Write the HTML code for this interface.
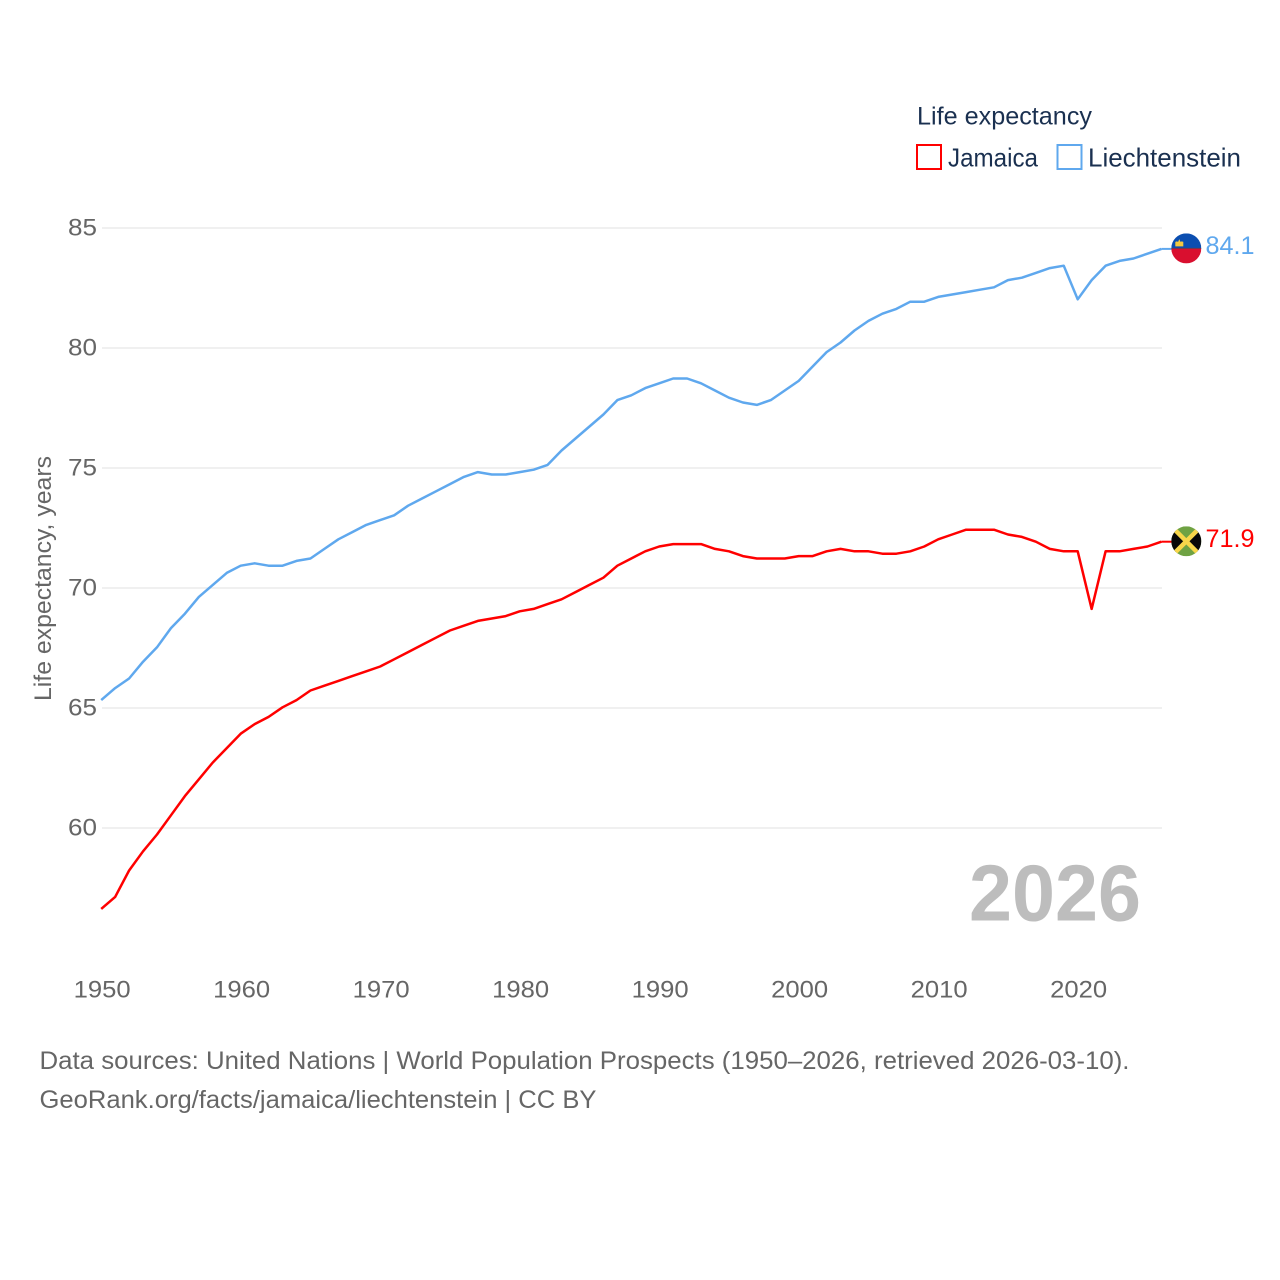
<!DOCTYPE html>
<html lang="en">
<head>
<meta charset="utf-8">
<title>Life expectancy: Jamaica and Liechtenstein</title>
<style>
html,body{margin:0;padding:0;background:#fff;width:1280px;height:1280px;overflow:hidden}
svg{display:block}
text{font-family:"Liberation Sans",sans-serif}
</style>
</head>
<body>
<svg id="chart" width="1280" height="1280" viewBox="0 0 1280 1280" xmlns="http://www.w3.org/2000/svg">
  <defs>
    <clipPath id="flag-clip-li"><circle cx="0" cy="0" r="15"/></clipPath>
    <clipPath id="flag-clip-jm"><circle cx="0" cy="0" r="15"/></clipPath>
  </defs>
  <rect x="0" y="0" width="1280" height="1280" fill="#ffffff"/>
  <g id="grid"></g>
  <g id="y-ticks"></g>
  <g id="x-ticks"></g>
  <text transform="translate(51,701) rotate(-90)" font-size="24" fill="#666666" textLength="245" lengthAdjust="spacingAndGlyphs">Life expectancy, years</text>
  <text x="969" y="920.500" font-size="80" font-weight="700" fill="#bdbdbd" textLength="172" lengthAdjust="spacingAndGlyphs">2026</text>
  <g id="series"></g>
  <g id="flag-li">
    <g clip-path="url(#flag-clip-li)">
      <rect x="-15" y="-15" width="30" height="15" fill="#0b4eb0"/>
      <rect x="-15" y="0" width="30" height="15" fill="#d90f2f"/>
      <rect x="-15" y="-0.500" width="30" height="1" fill="#6a3a50"/>
      <path d="M-11 -2h8v-4.500l-1.500 -.5-1.300 .5-1.200-2.800-1.200 2.800-1.300-.5-1.500 .5z" fill="#f4c93f"/>
    </g>
  </g>
  <g id="flag-jm">
    <g clip-path="url(#flag-clip-jm)">
      <rect x="-15" y="-15" width="30" height="30" fill="#6fa243"/>
      <path d="M-15 -15L0 0L-15 15z" fill="#080808"/>
      <path d="M15 -15L0 0L15 15z" fill="#080808"/>
      <path d="M-15 -15L15 15M15 -15L-15 15" stroke="#f7d64a" stroke-width="4.500" fill="none"/>
    </g>
  </g>
  <g id="end-labels"></g>
  <g>
    <text x="917" y="124.500" font-size="25" fill="#1a3050" textLength="175" lengthAdjust="spacingAndGlyphs">Life expectancy</text>
    <g>
      <rect x="917" y="145" width="24" height="24" fill="#ffffff" stroke="#ff0000" stroke-width="2"/>
      <text x="948" y="166.500" font-size="26" fill="#1a3050" textLength="90" lengthAdjust="spacingAndGlyphs">Jamaica</text>
    </g>
    <g>
      <rect x="1057.500" y="145" width="24" height="24" fill="#ffffff" stroke="#5fa8ee" stroke-width="2"/>
      <text x="1088" y="166.500" font-size="26" fill="#1a3050" textLength="153" lengthAdjust="spacingAndGlyphs">Liechtenstein</text>
    </g>
  </g>
  <text x="39.500" y="1069" font-size="25" fill="#666666" textLength="1090" lengthAdjust="spacingAndGlyphs">Data sources: United Nations | World Population Prospects (1950–2026, retrieved 2026-03-10).</text>
  <text x="39.500" y="1108" font-size="25" fill="#666666" textLength="557" lengthAdjust="spacingAndGlyphs">GeoRank.org/facts/jamaica/liechtenstein | CC BY</text>
</svg>
<script>
const firstYear = 1950;
const yTickValues = [60, 65, 70, 75, 80, 85];
const xTickValues = [1950, 1960, 1970, 1980, 1990, 2000, 2010, 2020];
const jamaicaValues = [56.6,57.1,58.2,59.0,59.7,60.5,61.3,62.0,62.7,63.3,63.9,64.3,64.6,65.0,65.3,65.7,65.9,66.1,66.3,66.5,66.7,67.0,67.3,67.6,67.9,68.2,68.4,68.6,68.7,68.8,69.0,69.1,69.3,69.5,69.8,70.1,70.4,70.9,71.2,71.5,71.7,71.8,71.8,71.8,71.6,71.5,71.3,71.2,71.2,71.2,71.3,71.3,71.5,71.6,71.5,71.5,71.4,71.4,71.5,71.7,72.0,72.2,72.4,72.4,72.4,72.2,72.1,71.9,71.6,71.5,71.5,69.1,71.5,71.5,71.6,71.7,71.9];
const liechtensteinValues = [65.3,65.8,66.2,66.9,67.5,68.3,68.9,69.6,70.1,70.6,70.9,71.0,70.9,70.9,71.1,71.2,71.6,72.0,72.3,72.6,72.8,73.0,73.4,73.7,74.0,74.3,74.6,74.8,74.7,74.7,74.8,74.9,75.1,75.7,76.2,76.7,77.2,77.8,78.0,78.3,78.5,78.7,78.7,78.5,78.2,77.9,77.7,77.6,77.8,78.2,78.6,79.2,79.8,80.2,80.7,81.1,81.4,81.6,81.9,81.9,82.1,82.2,82.3,82.4,82.5,82.8,82.9,83.1,83.3,83.4,82.0,82.8,83.4,83.6,83.7,83.9,84.1];

const NS = 'http://www.w3.org/2000/svg';
const xScale = function (year) { return 101.2 + (year - 1950) * 13.95; };
const yScale = function (value) { return 828 - (value - 60) * 24; };
const lineY = function (value) { return yScale(value) - 0.7; };
const plotRight = xScale(2026);

function make(tag, parent, attrs, content) {
  const el = document.createElementNS(NS, tag);
  for (const k in attrs) el.setAttribute(k, attrs[k]);
  if (content !== undefined) el.textContent = content;
  parent.appendChild(el);
  return el;
}

const gridG = document.getElementById('grid');
const yG = document.getElementById('y-ticks');
yTickValues.forEach(function (v) {
  const line = make('line', gridG, {x1: 102, x2: 1162, y1: yScale(v), y2: yScale(v), stroke: '#ececec', 'stroke-width': 1.5});
  
  
  const label = make('text', yG, {x: 97, y: yScale(v) + 7.5, 'text-anchor': 'end', 'font-size': 24, fill: '#666666', textLength: 29, lengthAdjust: 'spacingAndGlyphs'}, String(v));
  
  
});

const xG = document.getElementById('x-ticks');
xTickValues.forEach(function (v) {
  const label = make('text', xG, {x: xScale(v) + 1, y: 997.5, 'text-anchor': 'middle', 'font-size': 24, fill: '#666666', textLength: 57, lengthAdjust: 'spacingAndGlyphs'}, String(v));
  
  
});

function linePath(values) {
  return values.map(function (v, i) {
    return (i ? 'L' : 'M') + xScale(firstYear + i).toFixed(2) + ' ' + lineY(v).toFixed(2);
  }).join('');
}

const seriesG = document.getElementById('series');
const labelsG = document.getElementById('end-labels');

const jmLine = make('path', seriesG, {d: linePath(jamaicaValues), fill: 'none', stroke: '#ff0000', 'stroke-width': 2.5, 'stroke-linejoin': 'round'});



const liLine = make('path', seriesG, {d: linePath(liechtensteinValues), fill: 'none', stroke: '#5fa8ee', 'stroke-width': 2.5, 'stroke-linejoin': 'round'});



const jmLast = jamaicaValues[jamaicaValues.length - 1];
const liLast = liechtensteinValues[liechtensteinValues.length - 1];

const jmConn = make('line', seriesG, {x1: plotRight, x2: 1172, y1: lineY(jmLast), y2: lineY(jmLast), stroke: '#ff0000', 'stroke-width': 2});



const liConn = make('line', seriesG, {x1: plotRight, x2: 1172, y1: lineY(liLast), y2: lineY(liLast), stroke: '#5fa8ee', 'stroke-width': 2});



document.getElementById('flag-li').setAttribute('transform', 'translate(1186.3,' + (yScale(liLast) - 1.2) + ')');
document.getElementById('flag-jm').setAttribute('transform', 'translate(1186.3,' + (yScale(jmLast) - 1.1) + ')');

const liLabel = make('text', labelsG, {x: 1205.5, y: yScale(liLast) + 4.5, 'font-size': 25, fill: '#5fa8ee', textLength: 49, lengthAdjust: 'spacingAndGlyphs'}, liLast.toFixed(1));



const jmLabel = make('text', labelsG, {x: 1205.5, y: yScale(jmLast) + 4.5, 'font-size': 25, fill: '#ff0000', textLength: 49, lengthAdjust: 'spacingAndGlyphs'}, jmLast.toFixed(1));


</script>
</body>
</html>
